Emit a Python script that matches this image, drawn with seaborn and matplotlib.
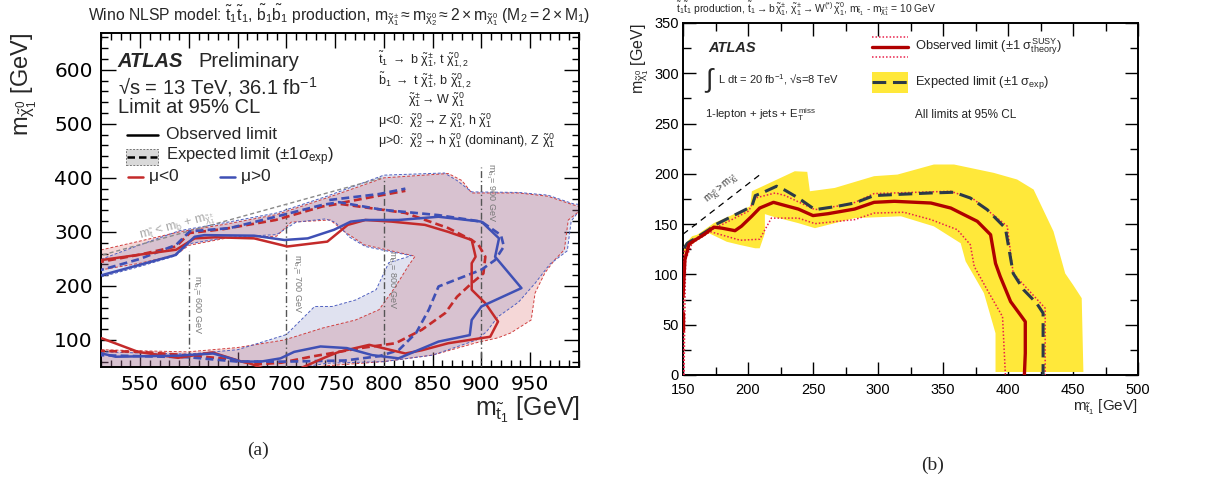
import numpy as np
import matplotlib
matplotlib.use("Agg")
import matplotlib.pyplot as plt
import seaborn as sns
from matplotlib.ticker import MultipleLocator
from matplotlib.patches import Rectangle, PathPatch
from matplotlib.path import Path

# ---------------- data: panel (a) ----------------
obs_neg_x = [505, 511, 550, 587, 606, 627, 667, 701, 742, 763, 781, 808, 842, 866, 890, 894, 890, 890, 904, 917, 909, 866, 839, 822, 785, 754, 740, 715, 700, 680, 662, 654, 624, 589, 548, 511, 505]
obs_neg_y = [250, 248, 258, 267, 288, 290, 288, 273, 282, 313, 322, 319, 313, 300, 285, 254, 242, 193, 168, 134, 106, 94, 81, 75, 91, 78, 68, 48, 35, 45, 57, 60, 77, 67, 78, 103, 105]
obs_pos_x = [505, 511, 586, 606, 616, 667, 698, 722, 749, 766, 781, 815, 856, 900, 918, 914, 941, 900, 890, 888, 856, 815, 788, 762, 735, 708, 694, 674, 654, 625, 589, 525, 511, 505]
obs_pos_y = [218, 220, 257, 291, 294, 293, 285, 288, 304, 319, 322, 322, 328, 319, 288, 254, 196, 162, 137, 109, 97, 66, 72, 85, 88, 78, 66, 60, 60, 75, 71, 69, 75, 76]
exp_neg_x = [505, 511, 550, 587, 601, 635, 689, 737, 754, 798, 822, 866, 890, 897, 904, 902, 890, 875, 863, 839, 812, 776, 754, 725, 695, 670, 640, 596, 550, 505]
exp_neg_y = [243, 245, 258, 273, 298, 305, 322, 347, 352, 341, 335, 307, 285, 276, 254, 223, 205, 180, 150, 119, 94, 85, 78, 69, 58, 55, 65, 72, 78, 80]
exp_neg_branch_x = [757, 798, 822]
exp_neg_branch_y = [354, 368, 376]
exp_pos_x = [505, 511, 550, 587, 601, 642, 689, 737, 754, 798, 856, 900, 920, 923, 914, 900, 856, 846, 833, 815, 795, 760, 700, 650, 600, 550, 505]
exp_pos_y = [228, 230, 250, 276, 301, 307, 328, 350, 355, 341, 331, 319, 294, 273, 248, 230, 199, 156, 113, 81, 70, 62, 60, 60, 68, 70, 72]
exp_pos_branch_x = [744, 795, 822]
exp_pos_branch_y = [359, 370, 380]

band_neg_hi_x = [490, 511, 550, 590, 640, 690, 740, 800, 866, 880, 890, 938, 968, 994, 1005, 989, 985, 975, 965, 955, 951, 930, 917, 895, 850, 800, 740, 700, 650, 490]
band_neg_hi_y = [268, 267, 283, 300, 315, 332, 362, 400, 408, 395, 372, 372, 366, 350, 345, 322, 267, 248, 224, 187, 137, 113, 104, 95, 72, 60, 52, 40, 20, 20]
band_neg_lo_x = [490, 511, 550, 599, 650, 698, 737, 771, 795, 812, 825, 832, 805, 780, 760, 745, 705, 690, 640, 600, 587, 550, 511, 490]
band_neg_lo_y = [80, 82, 80, 78, 86, 100, 122, 137, 156, 199, 237, 255, 266, 276, 300, 322, 318, 292, 289, 275, 258, 242, 230, 228]
band_pos_hi_x = [490, 511, 550, 590, 640, 690, 740, 800, 862, 875, 890, 938, 968, 994, 1005, 992, 988, 970, 955, 938, 917, 905, 895, 850, 800, 742, 700, 650, 490]
band_pos_hi_y = [252, 250, 276, 302, 318, 335, 365, 405, 409, 395, 374, 373, 368, 352, 350, 320, 265, 240, 205, 170, 143, 115, 100, 72, 60, 57, 45, 20, 20]
band_pos_lo_x = [490, 511, 550, 600, 650, 700, 729, 747, 771, 792, 805, 828, 805, 781, 765, 750, 740, 710, 690, 640, 600, 587, 550, 511, 490]
band_pos_lo_y = [76, 78, 76, 74, 82, 110, 162, 162, 174, 193, 243, 256, 264, 273, 290, 318, 324, 318, 295, 290, 278, 256, 236, 217, 215]

mb_values = [600, 700, 800, 900]
mb_tops = [264, 350, 400, 420]
mb_labels = ["600", "700", "800", "900"]
kin_a_x = [505, 800]
kin_a_y = [254, 401]

# ---------------- data: panel (b) ----------------
obs_x = [150, 151.5, 154.6, 159.7, 166, 173.7, 180, 190, 195, 203, 209, 219.6, 226, 238.7, 250, 261.6, 282, 297, 312.6, 340.7, 356, 366, 376.4, 386.6, 390.4, 394, 402, 409.5, 413.3, 413.3, 412.6]
obs_y = [78, 115, 130, 134.5, 139.5, 147, 146, 143.5, 148, 158, 166, 171.7, 169.4, 165, 158.5, 160.4, 165, 171.7, 172.7, 171, 166, 159.5, 152.8, 139.5, 111, 98, 73, 59.8, 53, 21.6, 0]
obs_low_x = [150, 150]
obs_low_y = [45, 62]
exp_x = [150.8, 153.3, 159.7, 170, 175, 185, 198, 203, 205.6, 210.7, 222, 228.5, 238.7, 251.5, 269, 282, 297, 312.6, 340.7, 358.5, 371, 384, 398, 404, 412, 422, 427, 427]
exp_y = [126, 131, 136, 144.5, 149.5, 156, 164.4, 167.8, 178.4, 181, 187.7, 183.7, 176, 164.4, 167.8, 171, 178.4, 179.4, 181, 181.7, 176, 164.4, 146, 101, 84.7, 71.4, 61.5, 0]
thu_x = [150.5, 150.5, 153, 170, 200.5, 205.6, 221, 228.5, 251.5, 269, 282, 297, 356, 374, 399.4, 404, 428.6, 428.6]
thu_y = [0, 121, 131, 143, 163, 176, 181, 178.4, 164.4, 168, 171.5, 180.4, 182.7, 174.4, 148, 101, 66.4, 0]
thd_x = [150.8, 152, 157, 171, 194, 209, 218, 238.7, 251.5, 282, 297, 320, 340.7, 361, 371, 374, 384, 395.8, 398]
thd_y = [0, 114.6, 131, 142.5, 134, 135, 156, 156, 150.5, 154.5, 161, 161.8, 154.5, 144.5, 129.6, 108, 84.7, 58, 0]
band_up_x = [150, 157, 161, 173.7, 187.6, 201.7, 203, 219.6, 236, 245.6, 247.6, 266.7, 297, 315, 343, 358.5, 389, 407, 419.7, 435, 444, 450, 456.7, 458]
band_up_y = [128, 138, 139.5, 151, 159, 167.8, 182.7, 192.7, 202.6, 202, 182.7, 186, 197.7, 199.3, 209.3, 209.3, 201, 194.4, 184.4, 142.8, 101, 89.7, 76.4, 3]
band_dn_x = [390.4, 390.4, 381.5, 367.4, 363.6, 343, 317.7, 282, 251.5, 238.7, 218.3, 213, 213, 209, 205.6, 193.8, 183.6, 170, 161, 153, 151, 151]
band_dn_y = [3, 41.5, 81.4, 113, 131, 147.8, 157.8, 156, 146, 151, 157.8, 160, 141, 126, 126, 129.3, 132.5, 141, 134, 126, 120, 3]
kin_b_x = [150, 210]
kin_b_y = [140, 200]

# ---------------- style ----------------
sns.set_theme(style="ticks")
plt.rcParams['font.family'] = ['Liberation Sans', 'DejaVu Sans']
plt.rcParams['mathtext.fontset'] = 'custom'
plt.rcParams['mathtext.rm'] = 'Liberation Sans'
plt.rcParams['mathtext.it'] = 'Liberation Sans'
plt.rcParams['mathtext.bf'] = 'Liberation Sans:bold'
plt.rcParams['mathtext.sf'] = 'Liberation Sans'

RED = '#c42a2a'
BLUE = '#3f50b5'

W, H = 1209, 483
fig = plt.figure(figsize=(W / 100, H / 100), dpi=100)
fig.patch.set_facecolor('white')


def px_axes(x0, y0, x1, y1):
    return fig.add_axes([x0 / W, 1 - y1 / H, (x1 - x0) / W, (y1 - y0) / H])


def line(ax, x, y, **kw):
    sns.lineplot(x=x, y=y, sort=False, estimator=None, ax=ax, legend=False, **kw)


def signed_area(x, y):
    x = np.asarray(x, float); y = np.asarray(y, float)
    return 0.5 * np.sum(x * np.roll(y, -1) - np.roll(x, -1) * y)


def band(ax, ox, oy, ix, iy, fc, alpha, ec):
    o = np.column_stack([ox, oy]).astype(float)
    i = np.column_stack([ix, iy]).astype(float)
    if signed_area(ox, oy) < 0:
        o = o[::-1]
    if signed_area(ix, iy) > 0:
        i = i[::-1]
    verts = np.concatenate([o, o[:1], i, i[:1]])
    codes = ([Path.MOVETO] + [Path.LINETO] * (len(o) - 1) + [Path.CLOSEPOLY]
             + [Path.MOVETO] + [Path.LINETO] * (len(i) - 1) + [Path.CLOSEPOLY])
    ax.add_patch(PathPatch(Path(verts, codes), facecolor=fc, alpha=alpha, edgecolor='none', zorder=1))
    line(ax, list(ox) + [ox[0]], list(oy) + [oy[0]], color=ec, linewidth=0.7, linestyle=(0, (3, 2)), zorder=2)
    line(ax, list(ix) + [ix[0]], list(iy) + [iy[0]], color=ec, linewidth=0.7, linestyle=(0, (3, 2)), zorder=2)


# ================= panel (a) =================
axa = px_axes(101, 33, 579, 367)
band(axa, band_neg_hi_x, band_neg_hi_y, band_neg_lo_x, band_neg_lo_y, '#d65a5a', 0.24, '#d04040')
band(axa, band_pos_hi_x, band_pos_hi_y, band_pos_lo_x, band_pos_lo_y, '#6570b8', 0.20, '#5060c0')

line(axa, kin_a_x, kin_a_y, color='#8a8a8a', linewidth=1.0, linestyle=(0, (3, 2)), zorder=3)
for xv, top, lab in zip(mb_values, mb_tops, mb_labels):
    line(axa, [xv, xv], [40, top], color='#555555', linewidth=1.0, linestyle=(0, (5, 2, 1, 2)), zorder=3)
mb_text_pos = [(608, 165), (710, 205), (808, 212), (909, 372)]
for (tx, ty), lab in zip(mb_text_pos, mb_labels):
    axa.text(tx, ty, r"$m_{\tilde{b}_1}$= " + lab + " GeV", rotation=-90, fontsize=6.5,
             color='#777777', ha='center', va='center', zorder=4)
axa.text(588, 310, r"$m_{\tilde{t}}$ < $m_{b}$ + $m_{\tilde{\chi}^{\pm}_1}$", rotation=15,
         fontsize=9, color='#a8a8a8', ha='center', va='center', zorder=4)

for xs, ys, c in [(exp_neg_x, exp_neg_y, RED), (exp_neg_branch_x, exp_neg_branch_y, RED),
                  (exp_pos_x, exp_pos_y, BLUE), (exp_pos_branch_x, exp_pos_branch_y, BLUE)]:
    line(axa, xs, ys, color=c, linewidth=1.9, linestyle=(0, (3, 1.6)), zorder=5)
line(axa, obs_neg_x, obs_neg_y, color=RED, linewidth=1.8, zorder=6)
line(axa, obs_pos_x, obs_pos_y, color=BLUE, linewidth=1.8, zorder=6)

axa.set_xlim(510, 1000)
axa.set_ylim(50, 668)
axa.xaxis.set_minor_locator(MultipleLocator(10))
axa.yaxis.set_major_locator(MultipleLocator(100))
axa.yaxis.set_minor_locator(MultipleLocator(20))
axa.set_xticks([550, 600, 650, 700, 750, 800, 850, 900, 950])
axa.set_yticks([100, 200, 300, 400, 500, 600])
axa.tick_params(which='both', direction='in', top=True, right=True, colors='black', width=1.0)
axa.tick_params(which='major', length=10.5, pad=6)
axa.tick_params(which='minor', length=5)
for lab in axa.get_xticklabels() + axa.get_yticklabels():
    lab.set_family('DejaVu Sans'); lab.set_fontsize(14.5)
for s in axa.spines.values():
    s.set_linewidth(1.4); s.set_color('black')
axa.set_xlabel(''); axa.set_ylabel('')

T = axa.transAxes
axa.text(0.035, 0.915, "ATLAS", transform=T, fontsize=14.5, fontweight='bold', style='italic', va='center')
axa.text(0.203, 0.915, "Preliminary", transform=T, fontsize=14.5, va='center')
axa.text(0.035, 0.838, "\u221As = 13 TeV, 36.1 fb$^{-1}$", transform=T, fontsize=14.5, va='center')
axa.text(0.035, 0.778, "Limit at 95% CL", transform=T, fontsize=14.5, va='center')
axa.plot([0.054, 0.12], [0.695, 0.695], transform=T, color='black', lw=1.8)
axa.text(0.136, 0.695, "Observed limit", transform=T, fontsize=12.5, va='center')
axa.add_patch(Rectangle((0.052, 0.605), 0.067, 0.048, transform=T, facecolor='#d9d9d9',
                        edgecolor='#777777', lw=0.7, linestyle=(0, (2, 1.5))))
axa.plot([0.054, 0.118], [0.629, 0.629], transform=T, color='black', lw=1.8, linestyle=(0, (3, 1.6)))
axa.text(0.136, 0.629, r"Expected limit ($\pm$1$\sigma_{\mathrm{exp}}$)", transform=T, fontsize=12, va='center')
axa.plot([0.057, 0.088], [0.570, 0.570], transform=T, color=RED, lw=1.8)
axa.text(0.098, 0.570, r"$\mu$<0", transform=T, fontsize=12.5, va='center')
axa.plot([0.249, 0.280], [0.570, 0.570], transform=T, color=BLUE, lw=1.8)
axa.text(0.291, 0.570, r"$\mu$>0", transform=T, fontsize=12.5, va='center')

dk = 9
axa.text(0.58, 0.919, r"$\tilde{t}_1\ \rightarrow\ b\ \tilde{\chi}^{\pm}_1$, $t\ \tilde{\chi}^{0}_{1,2}$", transform=T, fontsize=dk, va='center')
axa.text(0.58, 0.859, r"$\tilde{b}_1\ \rightarrow\ t\ \tilde{\chi}^{\pm}_1$, $b\ \tilde{\chi}^{0}_{1,2}$", transform=T, fontsize=dk, va='center')
axa.text(0.643, 0.799, r"$\tilde{\chi}^{\pm}_1\rightarrow W\ \tilde{\chi}^{0}_1$", transform=T, fontsize=dk, va='center')
axa.text(0.58, 0.739, r"$\mu$<0:  $\tilde{\chi}^{0}_2\rightarrow Z\ \tilde{\chi}^{0}_1$, $h\ \tilde{\chi}^{0}_1$", transform=T, fontsize=dk, va='center')
axa.text(0.58, 0.679, r"$\mu$>0:  $\tilde{\chi}^{0}_2\rightarrow h\ \tilde{\chi}^{0}_1$ (dominant), $Z\ \tilde{\chi}^{0}_1$", transform=T, fontsize=dk, va='center')

fig.text(339 / W, 1 - 15 / H, r"Wino NLSP model: $\tilde{t}_1\tilde{t}_1$, $\tilde{b}_1\tilde{b}_1$ production, "
         r"$m_{\tilde{\chi}^{\pm}_1}\approx m_{\tilde{\chi}^{0}_2}\approx 2\times m_{\tilde{\chi}^{0}_1}$ ($M_2 = 2\times M_1$)",
         ha='center', va='center', fontsize=11.3)
fig.text(24 / W, 1 - 33 / H, r"$m_{\tilde{\chi}^{0}_{1}}$ [GeV]", rotation=90, ha='center', va='top', fontsize=17)
fig.text(580 / W, 1 - 410 / H, r"$m_{\tilde{t}_{1}}$ [GeV]", ha='right', va='center', fontsize=18)
fig.text(258 / W, 1 - 450 / H, "(a)", ha='center', va='center', fontsize=14, family='Liberation Serif')

# ================= panel (b) =================
axb = px_axes(683, 23, 1138, 375)
yel_x = band_up_x + band_dn_x
yel_y = band_up_y + band_dn_y
axb.fill(yel_x, yel_y, color='#ffe83a', lw=0, zorder=1)
line(axb, kin_b_x, kin_b_y, color='black', linewidth=0.9, linestyle=(0, (5, 4)), zorder=2)
axb.text(180, 186, r"$m_{\tilde{\chi}^{0}_1} > m_{\tilde{\chi}^{\pm}_1}$", rotation=40, fontsize=7,
         color='#333333', ha='center', va='center')
line(axb, thu_x, thu_y, color='#e8204a', linewidth=1.1, linestyle=(0, (1, 1.3)), zorder=3)
line(axb, thd_x, thd_y, color='#e8204a', linewidth=1.1, linestyle=(0, (1, 1.3)), zorder=3)
line(axb, exp_x, exp_y, color='#2c3a48', linewidth=2.2, linestyle=(0, (4.5, 2.2)), zorder=4)
line(axb, obs_x, obs_y, color='#b00000', linewidth=2.4, zorder=5)
line(axb, obs_low_x, obs_low_y, color='#b00000', linewidth=2.4, zorder=5)

axb.set_xlim(150, 500)
axb.set_ylim(0, 350)
axb.xaxis.set_major_locator(MultipleLocator(50))
axb.xaxis.set_minor_locator(MultipleLocator(25))
axb.yaxis.set_major_locator(MultipleLocator(50))
axb.yaxis.set_minor_locator(MultipleLocator(25))
axb.tick_params(which='both', direction='in', top=True, right=True, colors='black', labelsize=10.5, width=1.0)
axb.tick_params(which='major', length=9.5, pad=3)
axb.tick_params(axis='x', which='major', pad=5.5)
axb.tick_params(which='minor', length=5.5)
for s in axb.spines.values():
    s.set_linewidth(1.4); s.set_color('black')
axb.set_xlabel(''); axb.set_ylabel('')

Tb = axb.transAxes
axb.text(0.055, 0.929, "ATLAS", transform=Tb, fontsize=10.5, fontweight='bold', style='italic', va='center')
axb.text(0.046, 0.835, r"$\int$", transform=Tb, fontsize=19, va='center')
axb.text(0.078, 0.838, "L dt = 20 fb$^{-1}$, \u221As=8 TeV", transform=Tb, fontsize=8, va='center')
axb.text(0.048, 0.739, r"1-lepton + jets + $E_{\mathrm{T}}^{\mathrm{miss}}$", transform=Tb, fontsize=8.2, va='center')
axb.plot([0.415, 0.495], [0.960, 0.960], transform=Tb, color='#e8204a', lw=1.1, linestyle=(0, (1, 1.3)))
axb.plot([0.415, 0.495], [0.903, 0.903], transform=Tb, color='#e8204a', lw=1.1, linestyle=(0, (1, 1.3)))
axb.plot([0.415, 0.495], [0.932, 0.932], transform=Tb, color='#b00000', lw=2.4)
axb.text(0.51, 0.932, r"Observed limit ($\pm$1 $\sigma^{\mathrm{SUSY}}_{\mathrm{theory}}$)", transform=Tb, fontsize=9.3, va='center')
axb.add_patch(Rectangle((0.415, 0.801), 0.08, 0.06, transform=Tb, facecolor='#ffe83a', edgecolor='none'))
axb.plot([0.415, 0.495], [0.831, 0.831], transform=Tb, color='#2c3a48', lw=2.2, linestyle=(0, (4.5, 2.2)))
axb.text(0.51, 0.831, r"Expected limit ($\pm$1 $\sigma_{\mathrm{exp}}$)", transform=Tb, fontsize=9.3, va='center')
axb.text(0.51, 0.739, "All limits at 95% CL", transform=Tb, fontsize=8.5, va='center')

fig.text(676 / W, 1 - 9 / H, r"$\tilde{t}_1\tilde{t}_1$ production, $\tilde{t}_1\rightarrow b\,\tilde{\chi}^{\pm}_1$, "
         r"$\tilde{\chi}^{\pm}_1\rightarrow W^{(*)}\,\tilde{\chi}^{0}_1$, $m_{\tilde{t}_1}$ - $m_{\tilde{\chi}^{\pm}_1}$ = 10 GeV",
         ha='left', va='center', fontsize=7.4)
fig.text(640 / W, 1 - 23 / H, r"$m_{\tilde{\chi}^{0}_{1}}$ [GeV]", rotation=90, ha='center', va='top', fontsize=11.5)
fig.text(1138 / W, 1 - 407 / H, r"$m_{\tilde{t}_{1}}$ [GeV]", ha='right', va='center', fontsize=11)
fig.text(933 / W, 1 - 465 / H, "(b)", ha='center', va='center', fontsize=14, family='Liberation Serif')

fig.savefig("out.png", dpi=100, facecolor='white')
